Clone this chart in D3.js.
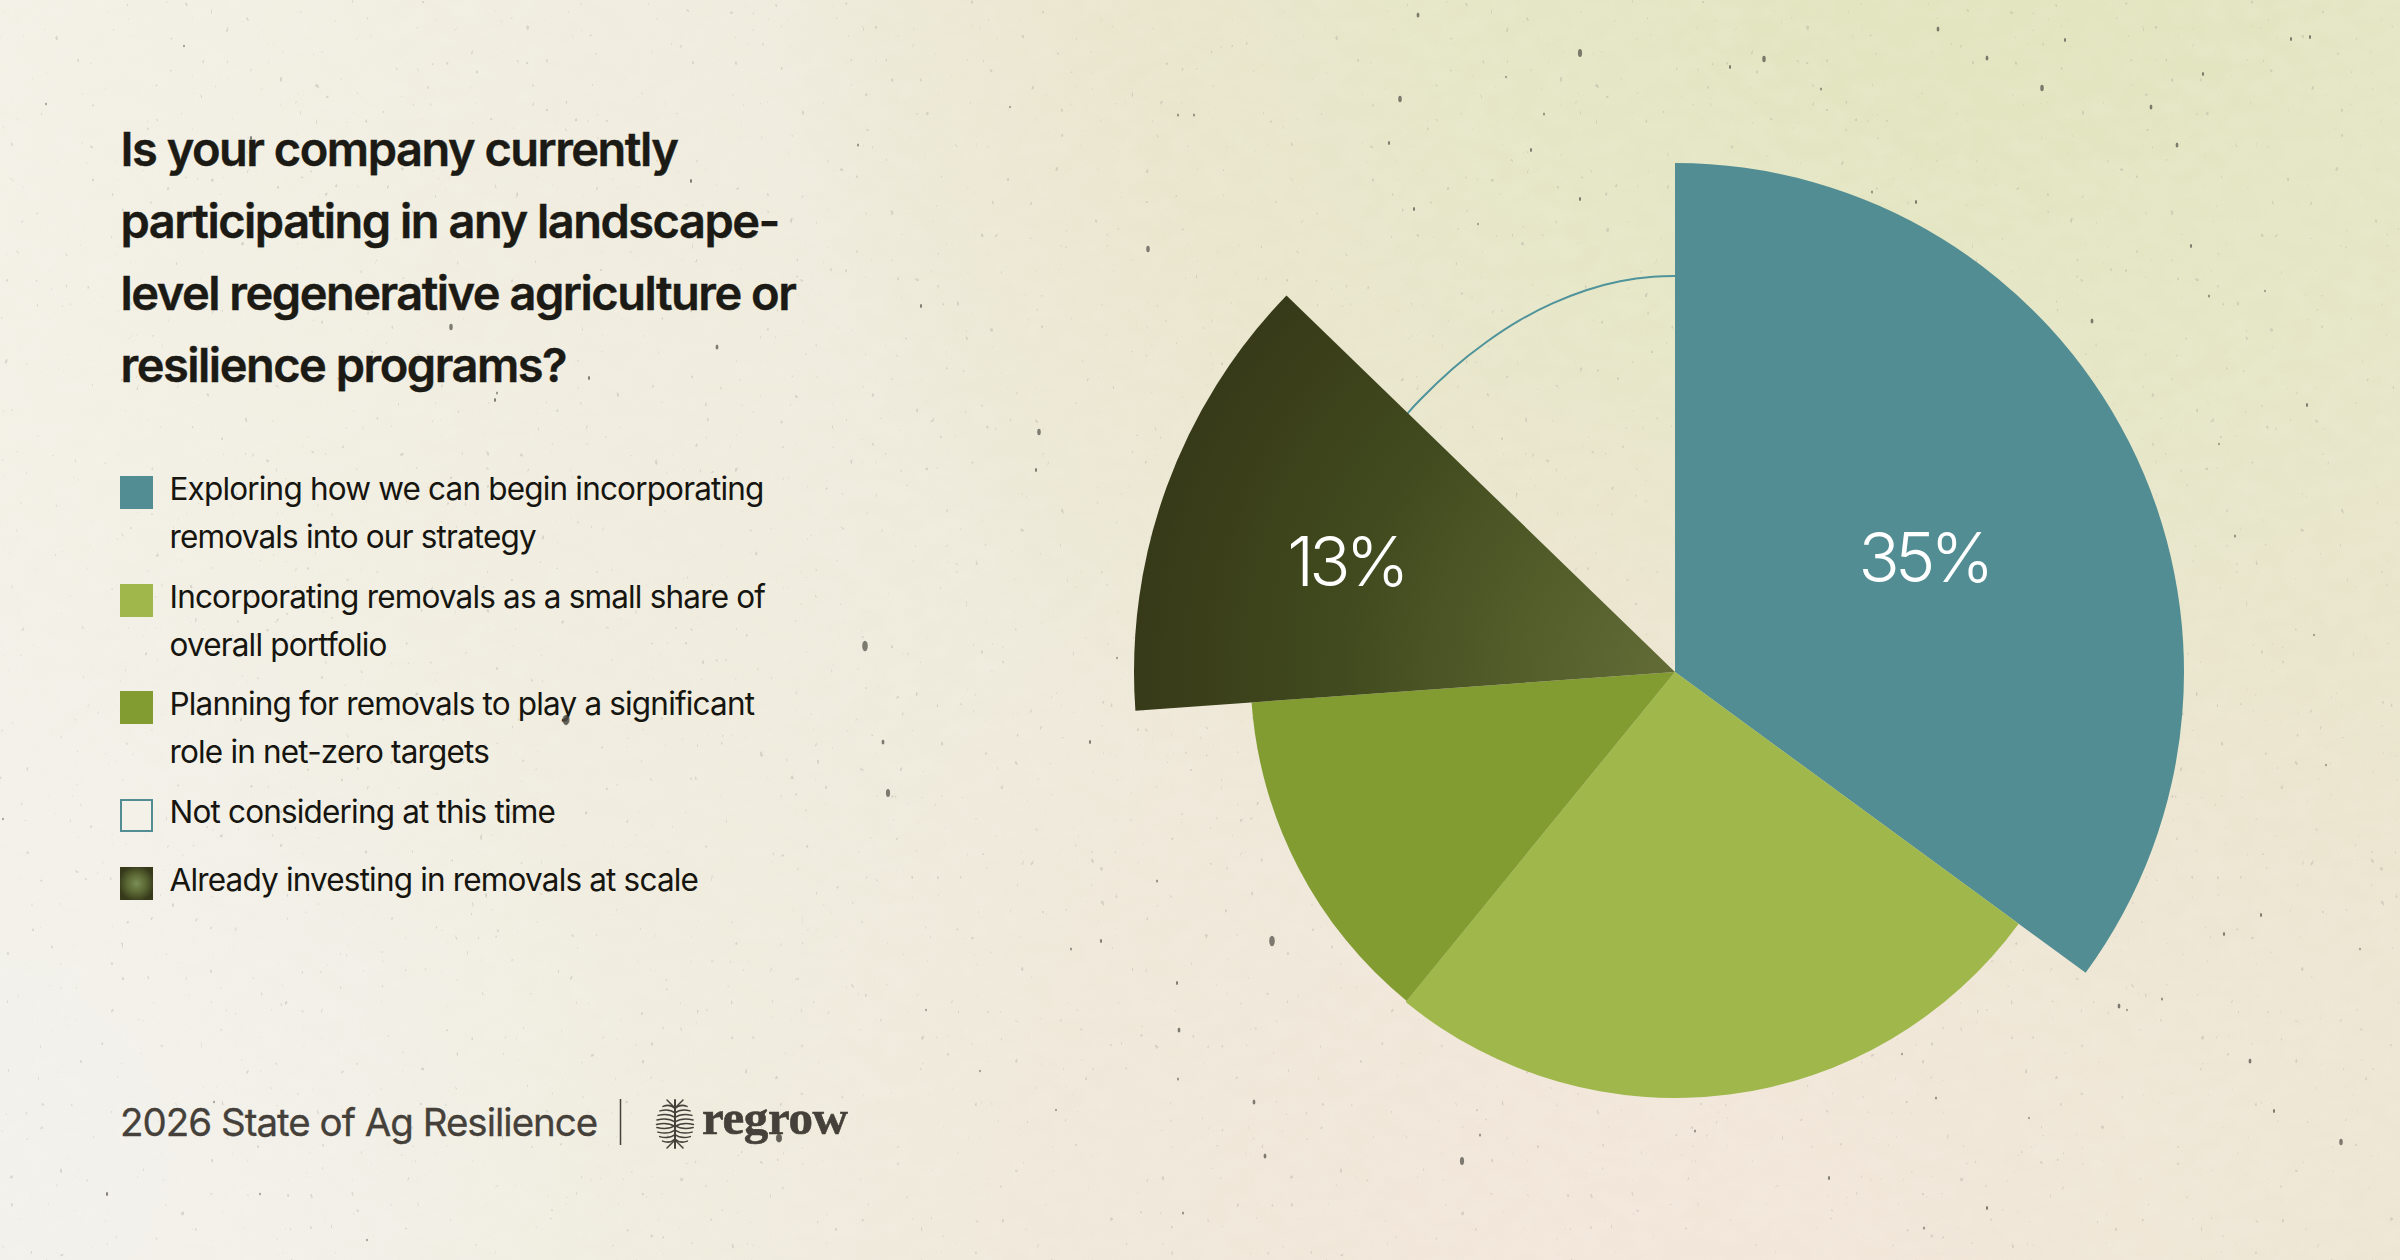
<!DOCTYPE html>
<html>
<head>
<meta charset="utf-8">
<script src="https://cdn.jsdelivr.net/npm/d3@7"></script>
<style>
html,body{margin:0;padding:0;background:#f1ecdf;}
svg{display:block;}
text{font-family:Inter,"Noto Sans",sans-serif;}
</style>
</head>
<body>
<svg id="chart" width="2400" height="1260" viewBox="0 0 2400 1260"></svg>
<script>
const titleLines = ["Is your company currently","participating in any landscape-","level regenerative agriculture or","resilience programs?"];
const categories = ["Exploring how we can begin incorporating|removals into our strategy","Incorporating removals as a small share of|overall portfolio","Planning for removals to play a significant|role in net-zero targets","Not considering at this time","Already investing in removals at scale"];
const pieOrder = ["teal","light","olive","dark","outline"];
const sliceValues = [35.06,25.83,12.97,13.39,12.75];
const sliceLabels = ["35%","","","13%",""];
const sliceColors = ["#518d92","#9fb74b","#829c31","url(#darkFill)","none"];
const legendColors = ["#518d92","#9fb74b","#829c31","#f3f1e8","url(#darkSwatch)"];
const footerText = "2026 State of Ag Resilience";
const logoText = "regrow";
const outlineDegrees = [314,317.1,323.8,330.2,336.2,341.7,346.9,352,356.8,360];
const outlineRadii = [372,373,376,380,384.5,388.5,392,394.6,395.8,396];
const specks = [[1418,15,2],[1580,53,3],[1764,59,2.5],[1400,99,2.5],[1938,29,2],[2042,88,2.5],[1987,58,2],[2203,74,1.5],[2177,145,2],[1580,199,1.5],[1414,209,1.5],[1478,224,1],[1389,143,1.5],[1531,150,1.5],[2191,246,1.5],[1916,202,1.5],[2151,107,2],[2291,39,1.5],[2310,37,1.5],[2065,40,1.5],[1730,67,1.5],[1821,89,1.2],[1544,114,1.2],[1506,77,1],[1872,192,1.2],[2209,296,1.2],[1272,941,4],[1101,941,1.5],[1177,983,1.5],[1179,1030,2],[1254,1102,2],[1265,1156,2],[1462,1161,3],[1695,1131,1.2],[1829,1178,1.5],[2250,1061,2],[2341,1142,2.5],[2274,1111,1.5],[1987,1208,1.5],[2119,1006,2],[2162,999,1.2],[1480,1135,1.2],[1936,1098,1.2],[1183,1213,1.2],[1924,1228,1.2],[2029,1118,1],[1902,1054,1],[865,646,4],[566,720,4],[888,793,3],[883,742,2],[1039,432,2.5],[1036,470,1.5],[1148,249,2.5],[921,306,1.5],[858,145,1.2],[1090,742,1.5],[1157,881,1.2],[779,1138,3.5],[451,327,2.5],[717,347,2],[691,181,1.5],[589,378,1.5],[495,400,1.5],[251,138,1.5],[2092,321,2],[2261,915,1.5],[2326,765,1],[2314,635,1],[2235,536,1.2],[2307,405,1.5],[2219,444,1],[2265,291,1],[2224,934,1.5],[2360,949,1],[2127,1010,1],[1071,949,1.2],[1178,1079,1.2],[1178,115,1.2],[1194,115,1.2],[1117,658,1],[260,1194,1],[367,1240,1],[107,1194,1.5],[46,104,1],[1010,107,1],[184,46,1],[497,393,1.2],[3,819,1],[214,1102,1],[926,1010,1],[980,1071,1],[1056,1110,1]];
const logoRibs = [-19,-14.5,-10,-5.5,-1,5,9.5,14,18.5];
</script>
<script>
const svg = d3.select("#chart");
const defs = svg.append("defs");
const W = 2400, H = 1260, cx = 1675, cy = 672;

function radial(id, attrs, stops){
  const g = defs.append("radialGradient").attr("id", id).attr("gradientUnits","userSpaceOnUse");
  Object.entries(attrs).forEach(([k,v]) => g.attr(k,v));
  stops.forEach(s => g.append("stop").attr("offset",s[0]).attr("stop-color",s[1]).attr("stop-opacity",s[2]));
}
const base = defs.append("linearGradient").attr("id","bgBase").attr("x1",0).attr("x2",1).attr("y1",0).attr("y2",0);
[[0,"#f3f0e6"],[0.45,"#eeeada"],[1,"#ece6d2"]].forEach(s => base.append("stop").attr("offset",s[0]).attr("stop-color",s[1]));
radial("bgGreen",{cx:2000,cy:-150,r:1250},[[0,"#e0e4bb",1],[0.42,"#e5e6c5",0.95],[0.72,"#e9e5cb",0.8],[1,"#e9e5cb",0]]);
radial("bgPeach",{cx:1650,cy:1320,r:950},[[0,"#f3e6da",1],[1,"#f2e6da",0]]);
radial("bgLeft",{cx:0,cy:1150,r:650},[[0,"#f2f1ec",1],[1,"#f2f1ec",0]]);
radial("darkFill",{cx:0,cy:0,r:541},[[0,"#636c37",1],[0.3,"#525d2a",1],[0.62,"#414a1e",1],[1,"#373a18",1]]);
radial("darkSwatch",{cx:136.5,cy:883.5,r:18},[[0,"#7c8d58",1],[0.5,"#5c6a35",1],[1,"#36391a",1]]);

const grain = defs.append("filter").attr("id","grain").attr("x",0).attr("y",0).attr("width","100%").attr("height","100%");
grain.append("feTurbulence").attr("type","fractalNoise").attr("baseFrequency","0.035 0.05").attr("numOctaves",3).attr("seed",7);
grain.append("feColorMatrix").attr("values","0 0 0 0 1  0 0 0 0 1  0 0 0 0 1  0.5 0 0 0 -0.16");

const fleck = defs.append("filter").attr("id","fleck").attr("x",0).attr("y",0).attr("width","100%").attr("height","100%");
fleck.append("feTurbulence").attr("type","fractalNoise").attr("baseFrequency","0.2 0.12").attr("numOctaves",2).attr("seed",11);
fleck.append("feColorMatrix").attr("values","0 0 0 0 0.34  0 0 0 0 0.33  0 0 0 0 0.3  14 0 0 0 -10.9");

const bg = svg.append("g");
["bgBase","bgGreen","bgPeach","bgLeft"].forEach(id => bg.append("rect").attr("width",W).attr("height",H).attr("fill",`url(#${id})`));
bg.append("rect").attr("width",W).attr("height",H).attr("filter","url(#grain)").attr("opacity",0.3);
bg.append("rect").attr("width",W).attr("height",H).attr("filter","url(#fleck)").attr("opacity",0.3);

svg.append("g").selectAll("ellipse").data(specks).join("ellipse")
  .attr("cx",d=>d[0]).attr("cy",d=>d[1]).attr("rx",d=>d[2]*0.7).attr("ry",d=>d[2]*1.3)
  .attr("fill","#57544c").attr("opacity",0.75);

// Pie
const pie = d3.pie().sort(null).value(d=>d).padAngle(0);
const slices = pie(sliceValues);
const radiusByKey = d3.scaleOrdinal().domain(pieOrder).range([509,426,424.5,541,396]);
const arc = d3.arc().innerRadius(0).outerRadius(d => radiusByKey(pieOrder[d.index]));
const pieG = svg.append("g").attr("transform",`translate(${cx},${cy})`);

const rad = d3.scaleLinear().domain([0,360]).range([0,2*Math.PI]);
const outline = d3.lineRadial().curve(d3.curveNatural)
  .angle((d,i)=>rad(outlineDegrees[i])).radius((d,i)=>outlineRadii[i]);
pieG.append("path").datum(outlineDegrees).attr("d",outline)
  .attr("fill","none").attr("stroke","#4f939b").attr("stroke-width",2);

pieG.selectAll("path.slice").data(slices.filter(s=>sliceColors[s.index]!=="none")).join("path")
  .attr("class","slice").attr("d",arc).attr("fill",d=>sliceColors[d.index]);

const labelXY = [[1924,582],null,null,[1346,586],null];
svg.append("g").selectAll("text").data(slices.filter(s=>sliceLabels[s.index])).join("text")
  .attr("x",d=>labelXY[d.index][0]).attr("y",d=>labelXY[d.index][1])
  .attr("text-anchor","middle").attr("fill","#fff")
  .attr("font-size",68).attr("font-weight",300).attr("letter-spacing",-4.8)
  .text(d=>sliceLabels[d.index]);

// Title
svg.append("g").selectAll("text").data(titleLines).join("text")
  .attr("x",120.5).attr("y",(d,i)=>166+i*72)
  .attr("font-size",47).attr("font-weight",600).attr("letter-spacing",-1.5).attr("fill","#1b1a14")
  .attr("stroke","#1b1a14").attr("stroke-width",0.4)
  .text(d=>d);

// Legend
const legY = [476,584,691,799,867];
const leg = svg.append("g").selectAll("g").data(categories).join("g");
leg.append("rect").attr("x",120).attr("y",(d,i)=>legY[i])
  .attr("width",33).attr("height",33)
  .attr("fill",(d,i)=>legendColors[i]);
leg.filter((d,i)=>i===3).select("rect")
  .attr("x",121).attr("y",800).attr("width",31).attr("height",31)
  .attr("stroke","#518d92").attr("stroke-width",2);
leg.each(function(d,i){
  d.split("|").forEach((line,k)=>{
    d3.select(this).append("text").attr("x",169.5).attr("y",legY[i]+24+k*48)
      .attr("font-size",31.5).attr("letter-spacing",-0.83).attr("fill","#16150f").text(line);
  });
});

// Footer
svg.append("text").attr("x",120).attr("y",1136).attr("font-size",38.5).attr("letter-spacing",-1)
  .attr("fill","#45413a").attr("stroke","#45413a").attr("stroke-width",0.3).text(footerText);
svg.append("line").attr("x1",620.5).attr("x2",620.5).attr("y1",1099).attr("y2",1145)
  .attr("stroke","#45413a").attr("stroke-width",1.5);

const logo = svg.append("g").attr("transform","translate(675,1124)").attr("fill","none")
  .attr("stroke","#45413a").attr("stroke-width",1.5).attr("stroke-linecap","round");
logo.append("line").attr("y1",-24).attr("y2",24).attr("stroke-width",2);
logoRibs.forEach(y=>{
  const hw = 18.5*Math.sqrt(Math.max(0.05,1-(y/25)*(y/25)));
  const droop = y<2 ? 3.5 : -3.5;
  [-1,1].forEach(s=>{
    logo.append("path").attr("d",`M0,${y+droop}Q${s*hw*0.4},${y-droop*0.4} ${s*hw},${y+droop*0.4}`);
  });
});
[-1,1].forEach(s=>{
  logo.append("path").attr("d",`M0,-16L${s*8},-24`);
  logo.append("path").attr("d",`M0,16L${s*8},24`);
});
svg.append("text").attr("x",702).attr("y",1134)
  .style("font-family","'Liberation Serif',serif").attr("font-weight",700)
  .attr("font-size",49).attr("letter-spacing",-0.4).attr("fill","#45413a")
  .attr("stroke","#45413a").attr("stroke-width",0.6).text(logoText);
svg.append("g").selectAll("ellipse").data(specks.filter(s=>s[2]>=3.5&&s[0]<800)).join("ellipse")
  .attr("cx",d=>d[0]).attr("cy",d=>d[1]).attr("rx",d=>d[2]*0.9).attr("ry",d=>d[2]*1.1)
  .attr("fill","#57544c").attr("opacity",0.7);
</script>
</body>
</html>
